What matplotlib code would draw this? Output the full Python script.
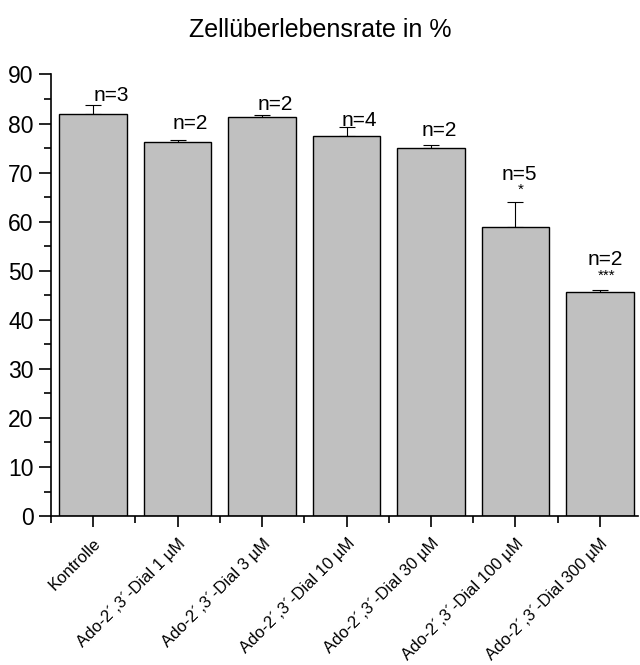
import matplotlib.pyplot as plt
from matplotlib.ticker import MultipleLocator

plt.rcParams['font.family'] = ['Liberation Sans', 'DejaVu Sans']

kategorien = ["Kontrolle", "Ado-2´,3´-Dial 1 µM", "Ado-2´,3´-Dial 3 µM",
              "Ado-2´,3´-Dial 10 µM", "Ado-2´,3´-Dial 30 µM",
              "Ado-2´,3´-Dial 100 µM", "Ado-2´,3´-Dial 300 µM"]
mittelwerte = [81.9, 76.2, 81.4, 77.4, 75.0, 59.0, 45.6]
fehler = [1.8, 0.4, 0.3, 1.8, 0.7, 5.1, 0.5]
n_texte = ["n=3", "n=2", "n=2", "n=4", "n=2", "n=5", "n=2"]
sterne = ["", "", "", "", "", "*", "***"]

# Lage der Beschriftungen (manuell gesetzt, wie im Original)
n_x = [0.21, 1.15, 2.15, 3.15, 4.10, 5.04, 6.06]
n_y = [85.8, 80.1, 83.8, 80.7, 78.5, 69.7, 52.3]
stern_y = [0, 0, 0, 0, 0, 66.6, 48.9]

fig = plt.figure(figsize=(6.4, 6.65), dpi=100)
ax = fig.add_axes([0.0797, 0.224, 0.917, 0.664])

x = range(len(kategorien))
ax.bar(x, mittelwerte, width=0.8, color="#c0c0c0", edgecolor="black",
       linewidth=1.0, zorder=2)
ax.errorbar(x, mittelwerte, yerr=[[0] * len(fehler), fehler], fmt="none",
            ecolor="black", elinewidth=0.8, capsize=6, capthick=0.8, zorder=1)

for i in x:
    ax.text(n_x[i], n_y[i], n_texte[i], ha="center", va="center", fontsize=15)
    if sterne[i]:
        ax.text(n_x[i] + 0.02, stern_y[i], sterne[i], ha="center", va="center",
                fontsize=11)

ax.set_ylim(0, 90)
ax.set_xlim(-0.5, 6.45)
ax.yaxis.set_major_locator(MultipleLocator(10))
ax.yaxis.set_minor_locator(MultipleLocator(5))
ax.set_xticks(list(x))
ax.set_xticks([i - 0.5 for i in x], minor=True)
ax.set_xticklabels(kategorien, rotation=45, ha="right", rotation_mode="anchor",
                   fontsize=12)
ax.tick_params(axis="y", which="major", length=9, width=1.2, labelsize=16.5)
ax.tick_params(axis="y", which="minor", length=5, width=1.2)
ax.tick_params(axis="x", which="major", length=8, width=1.2, pad=6)
ax.tick_params(axis="x", which="minor", length=5, width=1.2)

for s in ["top", "right"]:
    ax.spines[s].set_visible(False)
for s in ["left", "bottom"]:
    ax.spines[s].set_linewidth(1.2)

fig.text(0.5, 0.955, "Zellüberlebensrate in %", ha="center", va="center",
         fontsize=18)

fig.savefig("out.png", dpi=100)
